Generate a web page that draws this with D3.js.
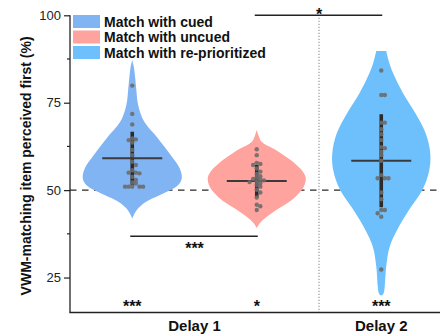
<!DOCTYPE html>
<html>
<head>
<meta charset="utf-8">
<script src="https://cdn.jsdelivr.net/npm/d3@7"></script>
<style>
  html, body { margin: 0; padding: 0; background: #fff; }
  svg { display: block; font-family: Arial, "Liberation Sans", Helvetica, sans-serif; }
</style>
</head>
<body>
<svg id="chart" width="440" height="336"></svg>
<script>
// ---------------- data ----------------
const categories = ["Match with cued", "Match with uncued", "Match with re-prioritized"];
const colors = ["#80b4f3", "#ffa39e", "#6dc0fb"];
const groupLabels = ["Delay 1", "Delay 2"];
const groupMembers = [[0, 1], [2]];

const means = [59.1, 52.6, 58.4];
const sds = [7.6, 4.6, 13.3];

const cuedPoints = [79.9, 71.8, 68.8, 64.8, 64.5, 64.3, 63.6, 61.5, 60.0, 58.1, 57.2, 55.7,
  55.0, 55.0, 54.8, 53.8, 52.9, 51.9, 51.0, 51.0, 51.0, 51.0, 51.0, 52.2];
const uncuedPoints = [61.7, 60.0, 57.8, 57.5, 57.2, 56.2, 55.3, 54.6, 54.0, 53.6, 53.2, 53.0,
  52.8, 52.5, 52.3, 52.0, 51.5, 51.0, 50.1, 49.3, 47.9, 45.8, 45.4, 44.3];
const repriPoints = [84.2, 77.2, 77.2, 69.3, 69.3, 67.4, 66.0, 64.3, 62.3, 62.0, 61.0, 60.0,
  58.4, 54.3, 53.4, 53.4, 53.4, 49.3, 47.4, 44.3, 44.3, 43.4, 42.4, 27.3];
const points = [cuedPoints, uncuedPoints, repriPoints];

// violin density profiles: [value, relative density]
const cuedDensity = [[87.2, 0], [85.0, 0.035], [82.0, 0.06], [79.1, 0.08], [74.3, 0.12], [69.6, 0.24],
  [64.8, 0.52], [60.0, 0.78], [56.2, 0.96], [53.4, 1.0], [51.5, 0.93], [48.6, 0.56],
  [46.7, 0.28], [44.8, 0.12], [43.4, 0.05], [41.9, 0]];
const uncuedDensity = [[67.2, 0], [65.5, 0.04], [63.8, 0.1], [61.0, 0.44], [58.1, 0.73], [55.3, 0.93],
  [53.4, 0.99], [51.0, 0.95], [47.7, 0.75], [44.8, 0.45], [41.9, 0.16], [40.5, 0.06], [39.1, 0]];
const repriDensity = [[89.8, 0.1], [86.5, 0.16], [83.4, 0.24], [77.7, 0.44], [72.0, 0.69], [66.2, 0.9],
  [60.5, 0.99], [55.7, 0.97], [50.0, 0.83], [44.3, 0.56], [38.6, 0.32], [33.8, 0.17],
  [28.1, 0.1], [22.4, 0.07], [20.6, 0.05], [19.9, 0.02]];
const densities = [cuedDensity, uncuedDensity, repriDensity];

const yTicks = [25, 50, 75, 100];
const yMinorTicks = [37.5, 62.5, 87.5];
const chanceLevel = 50;

// significance brackets
const brackets = [
  { from: 1, to: 2, value: 100, label: "*", above: true },
  { from: 0, to: 1, value: 36.8, label: "***", above: false }
];
const bottomStars = ["***", "*", "***"];
const bottomStarValue = 17.6;

// ---------------- layout ----------------
const svg = d3.select("#chart");
const W = 440, H = 336;
const x = d3.scaleLinear().domain([0.5, 3.5]).range([70, 443.5]);
const y = d3.scaleLinear().domain([15, 100]).range([312.5, 15.3]);
const w = d3.scaleLinear().domain([0, 1]).range([0, 49.5]);
const pos = i => x(i + 1);

// chance level dashed line
svg.append("line")
  .attr("x1", x(0.5)).attr("x2", W)
  .attr("y1", y(chanceLevel)).attr("y2", y(chanceLevel))
  .attr("stroke", "#2a2a2a").attr("stroke-width", 1.2)
  .attr("stroke-dasharray", "6.5,5.5");

// separator between delays
svg.append("line")
  .attr("x1", x(2.5)).attr("x2", x(2.5))
  .attr("y1", y(99.3)).attr("y2", y(15))
  .attr("stroke", "#999").attr("stroke-width", 1.2)
  .attr("stroke-dasharray", "1.2,1.8");

// violins
densities.forEach((dens, i) => {
  const area = d3.area()
    .curve(d3.curveCatmullRom.alpha(0.5))
    .y(d => y(d[0]))
    .x0(d => pos(i) - w(d[1]))
    .x1(d => pos(i) + w(d[1]));
  svg.append("path").datum(dens)
    .attr("d", area)
    .attr("fill", colors[i]);
});

// SD bars and means
means.forEach((m, i) => {
  svg.append("line")
    .attr("x1", pos(i)).attr("x2", pos(i))
    .attr("y1", y(m + sds[i])).attr("y2", y(m - sds[i]))
    .attr("stroke", "#2b2b2b").attr("stroke-width", 3.6);
  svg.append("line")
    .attr("x1", pos(i) - 30).attr("x2", pos(i) + 30)
    .attr("y1", y(m)).attr("y2", y(m))
    .attr("stroke", "#3a3a3a").attr("stroke-width", 2);
});

// points (simple beeswarm)
const r = 2.2;
points.forEach((vals, i) => {
  const placed = [];
  const sorted = vals.slice().sort((a, b) => d3.descending(a, b));
  sorted.forEach(v => {
    const py = y(v);
    const step = 3.6;
    const offsets = [0];
    for (let k = 1; k < 10; k++) { offsets.push(k * step, -k * step); }
    let px = pos(i);
    for (const o of offsets) {
      const cx = pos(i) + o;
      const ok = placed.every(p => Math.hypot(p[0] - cx, p[1] - py) >= 3.4);
      if (ok) { px = cx; break; }
    }
    placed.push([px, py]);
  });
  svg.append("g").selectAll("circle").data(placed).join("circle")
    .attr("cx", d => d[0]).attr("cy", d => d[1]).attr("r", r)
    .attr("fill", "#6c6c6c").attr("fill-opacity", 0.9);
});

// brackets
brackets.forEach(b => {
  const yy = y(b.value);
  svg.append("line")
    .attr("x1", pos(b.from) - 2).attr("x2", pos(b.to) + 1)
    .attr("y1", yy).attr("y2", yy)
    .attr("stroke", "#222").attr("stroke-width", 1.6);
  svg.append("text")
    .attr("x", (pos(b.from) + pos(b.to)) / 2)
    .attr("y", b.above ? yy + 5 : yy + 17.5)
    .attr("text-anchor", "middle")
    .attr("font-size", 16).attr("font-weight", "bold").attr("fill", "#111")
    .text(b.label);
});

bottomStars.forEach((s, i) => {
  svg.append("text")
    .attr("x", pos(i)).attr("y", y(bottomStarValue) + 8.5)
    .attr("text-anchor", "middle")
    .attr("font-size", 16).attr("font-weight", "bold").attr("fill", "#111")
    .text(s);
});

// axes
const yAxis = d3.axisLeft(y).tickValues(yTicks).tickSize(6).tickPadding(3).tickSizeOuter(0);
const gy = svg.append("g").attr("transform", `translate(${x(0.5)},0)`).call(yAxis);
gy.select(".domain").attr("stroke", "#222").attr("stroke-width", 1.3)
  .attr("d", `M0,${y(100)}V${y(15)}`);
gy.selectAll(".tick line").attr("stroke", "#222").attr("stroke-width", 1.2);
gy.selectAll(".tick text").attr("font-size", 13).attr("fill", "#222")
  .attr("font-family", "Arial, 'Liberation Sans', sans-serif");
gy.selectAll(".minor").data(yMinorTicks).join("line")
  .attr("class", "minor")
  .attr("x1", -3).attr("x2", 0)
  .attr("y1", d => y(d)).attr("y2", d => y(d))
  .attr("stroke", "#222").attr("stroke-width", 1.2);

svg.append("line")
  .attr("x1", x(0.5) - 0.6).attr("x2", W)
  .attr("y1", y(15)).attr("y2", y(15))
  .attr("stroke", "#222").attr("stroke-width", 1.3);

// x group labels
groupLabels.forEach((g, gi) => {
  const cx = d3.mean(groupMembers[gi], i => pos(i));
  svg.append("text")
    .attr("x", cx).attr("y", 331)
    .attr("text-anchor", "middle")
    .attr("font-size", 15).attr("font-weight", "bold").attr("fill", "#111")
    .text(g);
});

// y label
svg.append("text")
  .attr("transform", `translate(31,${(y(100) + y(15)) / 2 + 2}) rotate(-90)`)
  .attr("text-anchor", "middle")
  .attr("font-size", 14).attr("font-weight", "bold").attr("fill", "#111")
  .text("VWM-matching item perceived first (%)");

// legend
const lg = svg.append("g").attr("transform", "translate(73,15)");
categories.forEach((c, i) => {
  const row = lg.append("g").attr("transform", `translate(0,${i * 15.5})`);
  row.append("rect").attr("width", 27).attr("height", 13).attr("fill", colors[i]);
  row.append("text").attr("x", 31).attr("y", 11.5)
    .attr("font-size", 14).attr("font-weight", "bold").attr("fill", "#111")
    .text(c);
});
</script>
</body>
</html>
